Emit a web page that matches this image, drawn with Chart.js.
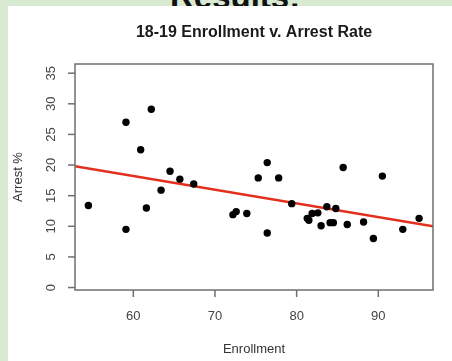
<!DOCTYPE html>
<html>
<head>
<meta charset="utf-8">
<script src="https://cdn.jsdelivr.net/npm/chart.js@4"></script>
<style>
  html, body { margin: 0; padding: 0; }
  body { width: 452px; height: 361px; background: #d9ead3; position: relative; overflow: hidden; font-family: "Liberation Sans", Arial, sans-serif; }
  #heading { position: absolute; left: 170px; top: -20px; font-size: 33px; font-weight: bold; color: #111; line-height: 33px; }
  #panel { position: absolute; left: 8px; top: 6px; right: 0; bottom: 0; background: #fff; }
  #wrap { position: absolute; left: 0; top: 0; width: 452px; height: 361px; }
</style>
</head>
<body>
<div id="heading">Results:</div>
<div id="panel"></div>
<div id="wrap"><canvas id="arrestChart"></canvas></div>
<script>
// Enrollment vs arrest % (one point per school)
const enrollment = [54.5, 59.1, 59.1, 62.2, 60.9, 61.6, 63.4, 64.5, 65.7, 67.4,
  72.2, 72.6, 73.9, 76.4, 75.3, 77.8, 76.4, 79.4, 81.3, 81.5,
  81.9, 82.6, 83.0, 83.7, 84.1, 84.5, 84.8, 85.7, 86.2, 88.2,
  89.4, 90.5, 93.0, 95.0];
const arrestRate = [13.4, 27.0, 9.5, 29.1, 22.5, 13.0, 15.9, 19.0, 17.7, 16.9,
  11.9, 12.4, 12.1, 20.4, 17.9, 17.9, 8.9, 13.7, 11.3, 11.0,
  12.1, 12.2, 10.1, 13.2, 10.6, 10.6, 12.9, 19.6, 10.3, 10.7,
  8.0, 18.2, 9.5, 11.3];

const fitX = [52.86, 96.7];
const fitY = [19.8, 10.0];

const xTicks = [60, 70, 80, 90];
const yTicks = [0, 5, 10, 15, 20, 25, 30, 35];

const chartTitle = '18-19 Enrollment v. Arrest Rate';
const xTitle = 'Enrollment';
const yTitle = 'Arrest %';

const FONT = '"Liberation Sans", Arial, sans-serif';

// R-style box, ticks and labels
const rAxes = {
  id: 'rAxes',
  afterDraw(chart) {
    const ctx = chart.ctx;
    const area = chart.chartArea;
    const xs = chart.scales.x;
    const ys = chart.scales.y;
    ctx.save();
    ctx.strokeStyle = '#6f6f6f';
    ctx.lineWidth = 1.5;
    ctx.strokeRect(area.left, area.top, area.right - area.left, area.bottom - area.top);

    ctx.fillStyle = '#444';
    ctx.font = '13px ' + FONT;
    ctx.textAlign = 'center';
    ctx.textBaseline = 'middle';
    xTicks.forEach(v => {
      const px = xs.getPixelForValue(v);
      ctx.beginPath();
      ctx.moveTo(px, area.bottom);
      ctx.lineTo(px, area.bottom + 7);
      ctx.stroke();
      ctx.fillText(String(v), px, area.bottom + 26);
    });
    yTicks.forEach(v => {
      const py = ys.getPixelForValue(v);
      ctx.beginPath();
      ctx.moveTo(area.left - 7, py);
      ctx.lineTo(area.left, py);
      ctx.stroke();
      ctx.save();
      ctx.translate(area.left - 24, py);
      ctx.rotate(-Math.PI / 2);
      ctx.fillText(String(v), 0, 0);
      ctx.restore();
    });

    ctx.fillStyle = '#333';
    ctx.fillText(xTitle, (area.left + area.right) / 2, 349);
    ctx.save();
    ctx.translate(18, (area.top + area.bottom) / 2);
    ctx.rotate(-Math.PI / 2);
    ctx.fillText(yTitle, 0, 0);
    ctx.restore();

    ctx.fillStyle = '#1a1a1a';
    ctx.font = 'bold 16px ' + FONT;
    ctx.fillText(chartTitle, (area.left + area.right) / 2, 33);
    ctx.restore();
  }
};

const ctx = document.getElementById('arrestChart').getContext('2d');
new Chart(ctx, {
  type: 'scatter',
  data: {
    datasets: [{
      label: 'Schools',
      data: enrollment.map((x, i) => ({ x: x, y: arrestRate[i] })),
      backgroundColor: '#000',
      borderColor: '#000',
      pointRadius: 3.7,
      pointBorderWidth: 0,
      order: 0
    }, {
      label: 'Fit',
      data: fitX.map((x, i) => ({ x: x, y: fitY[i] })),
      showLine: true,
      borderColor: '#e3301c',
      borderWidth: 2.6,
      pointRadius: 0,
      order: 1
    }]
  },
  options: {
    responsive: true,
    maintainAspectRatio: false,
    animation: false,
    layout: { padding: { left: 75, top: 64, right: 19, bottom: 71 } },
    plugins: {
      legend: { display: false },
      tooltip: { enabled: false }
    },
    scales: {
      x: { type: 'linear', min: 52.86, max: 96.7, display: false },
      y: { type: 'linear', min: -0.4, max: 36.5, display: false }
    }
  },
  plugins: [rAxes]
});
</script>
</body>
</html>
